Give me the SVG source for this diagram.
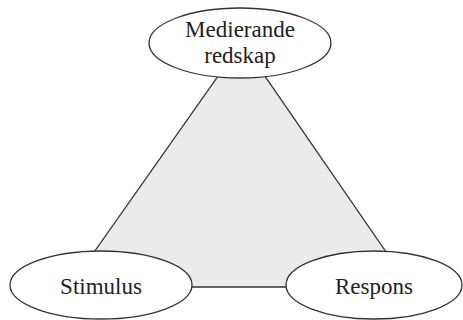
<svg xmlns="http://www.w3.org/2000/svg" width="463" height="320" viewBox="0 0 463 320">
<style>
.n{fill:#fff;stroke:#333;stroke-width:1.3}
.t{font-family:"Liberation Serif",serif;font-size:23px;fill:#222;text-anchor:middle}
.c{fill:#ebebeb;stroke:#333;stroke-width:1.3}
</style>
<rect width="463" height="320" fill="#fff"/>
<g id="connectors">
<polygon class="c" points="221,72 262,72 395,265 380,287 120,287 85,265"/>
</g>
<g id="mediating">
<ellipse class="n" cx="240" cy="43" rx="91" ry="35"/>
<text class="t" x="240" y="37">Medierande</text>
<text class="t" x="240" y="63">redskap</text>
</g>
<g id="stimulus">
<ellipse class="n" cx="101" cy="285" rx="91" ry="34"/>
<text class="t" x="101" y="294">Stimulus</text>
</g>
<g id="respons">
<ellipse class="n" cx="374" cy="285" rx="88" ry="34"/>
<text class="t" x="374" y="294">Respons</text>
</g>
</svg>
